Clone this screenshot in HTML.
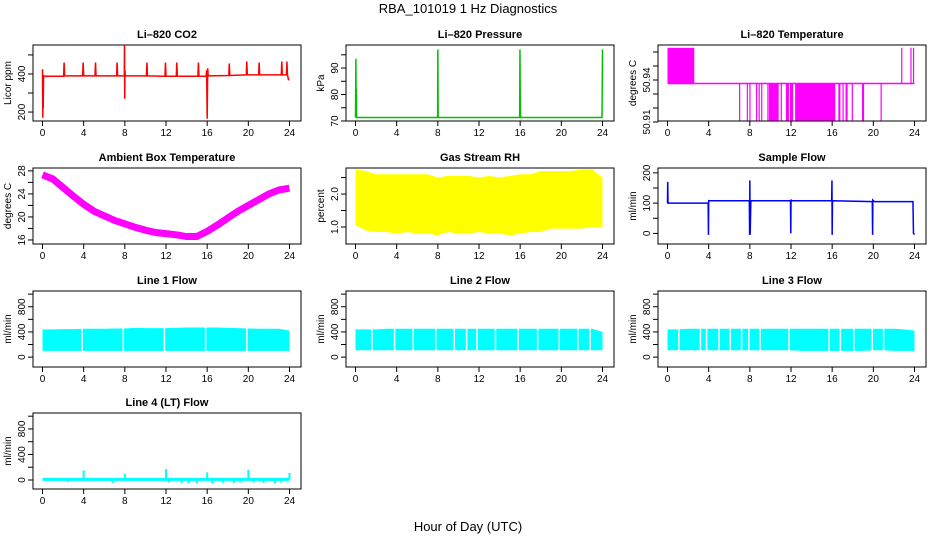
<!DOCTYPE html>
<html><head><meta charset="utf-8"><style>
html,body{margin:0;padding:0;background:#fff}
svg{display:block;font-family:"Liberation Sans",Arial,sans-serif}
</style></head><body>
<svg id="c" width="936" height="540" viewBox="0 0 936 540">
<text x="468" y="13" text-anchor="middle" font-size="13">RBA_101019  1 Hz Diagnostics</text>
<text x="468" y="531" text-anchor="middle" font-size="13">Hour of Day (UTC)</text>
</svg>
<script>
// ---- data ----
const xTicks = [0,4,8,12,16,20,24];
// CO2
const co2Hours = [0,0.03,0.05,0.07,0.1,0.12,0.2,1,2.05,2.1,2.15,3.9,3.95,4,5.1,5.15,5.2,7.2,7.25,7.3,7.95,7.97,7.99,8.01,8.05,10.1,10.15,10.2,11.9,11.95,12,13.0,13.05,13.1,15.1,15.15,15.2,15.9,15.95,16.0,16.05,16.1,18.1,18.15,18.2,19.8,19.85,19.9,21.0,21.05,21.1,23.2,23.25,23.3,23.7,23.75,23.8,23.9,24];
const co2Vals  = [425,170,385,220,385,390,388,388,388,460,390,390,460,390,390,460,390,390,460,390,390,600,270,420,390,390,460,390,388,460,388,388,460,388,388,460,388,388,420,165,430,390,392,455,392,395,465,395,395,460,395,395,465,395,395,465,395,370,370];
// Pressure
const presHours = [0,0.04,0.06,0.08,0.1,0.15,4,7.98,8.0,8.03,8.1,15.95,15.98,16.02,16.1,23.95,24];
const presVals  = [71.3,93.5,71.3,82,71.3,71.3,71.3,71.3,97,71.5,71.3,71.3,97,72,71.3,71.3,97];
// Li-820 temperature
const tempHigh = 50.963, tempMid = 50.9375, tempLow = 50.911;
const tempHighBlocks = [[0,2.6],[22.7,22.8],[23.6,23.7],[23.85,23.95]];
const tempLowBlocks = [[6.95,7.0],[7.7,7.8],[7.95,8.0],[8.6,8.7],[8.85,8.9],[9.1,9.15],[9.7,9.8],[9.85,10.8],[11.0,11.1],[11.5,11.8],[11.9,12.2],[12.4,16.3],[16.6,16.8],[17.0,17.1],[17.3,17.5],[17.9,18.0],[18.9,19.1],[20.7,20.75]];
// Ambient
const hours = [0,1,2,3,4,5,6,7,8,9,10,11,12,13,14,15,16,17,18,19,20,21,22,23,24];
const ambVals = [27.3,26.6,25.1,23.6,22.2,21.0,20.2,19.4,18.8,18.2,17.7,17.3,17.1,16.9,16.6,16.6,17.5,18.6,19.8,21.0,22.0,23.0,24.0,24.7,25.0];
// RH
const rhUpper = [2.75,2.7,2.6,2.6,2.6,2.6,2.6,2.6,2.5,2.55,2.55,2.55,2.5,2.55,2.5,2.55,2.6,2.6,2.7,2.7,2.7,2.7,2.75,2.75,2.5];
const rhLower = [1.05,0.9,0.85,0.85,0.8,0.85,0.8,0.8,0.75,0.85,0.8,0.8,0.85,0.8,0.8,0.75,0.8,0.85,0.85,0.95,0.95,0.95,0.95,1.0,1.0];
// Sample flow
const sfHours = [0,0.02,0.05,0.1,3.95,3.98,4.0,4.03,4.1,7.95,7.98,8.0,8.03,8.1,11.95,11.98,12.0,12.03,12.1,15.95,15.98,16.0,16.03,16.1,19.9,19.93,19.95,20.0,20.1,23.85,23.9,23.95,24];
const sfVals  = [100,170,100,100,100,-5,110,108,108,108,-5,175,-5,108,108,0,112,108,108,108,175,-5,108,108,105,-5,110,108,105,105,0,-2,0];
// Line flows (band envelopes per hour + gap hours)
const l1Upper = [440,440,445,445,450,450,450,455,455,465,460,460,460,465,470,470,470,470,465,460,455,450,450,450,420];
const l1Lower = [100,100,100,100,100,100,100,100,100,100,100,100,100,100,100,100,100,100,100,100,100,100,100,100,100];
const l1Gaps = [3.85,7.85,11.85,15.85,19.85];
const l2Upper = [440,440,440,450,450,450,450,450,450,450,450,450,450,450,450,450,450,450,450,450,450,450,450,450,400];
const l2Lower = [110,110,110,110,110,110,110,110,110,110,110,110,110,110,110,110,110,110,110,110,110,110,110,110,110];
const l2Gaps = [1.6,3.8,5.6,7.8,9.6,10.8,11.8,13.6,15.8,17.7,19.8,21.6,22.8];
const l3Upper = [440,440,450,450,450,450,450,450,450,450,450,450,450,450,450,450,450,450,450,450,450,450,450,440,420];
const l3Lower = [110,110,110,110,110,110,110,110,110,110,110,110,110,100,100,100,100,100,100,100,110,110,100,100,100];
const l3Gaps = [1.1,3.2,3.8,5.0,6.1,7.2,7.9,9.0,11.8,15.7,16.8,18.1,19.9,21.0];
// Line 4
const l4Base = 10;
const l4SpikeHours = [4.0,8.0,12.0,16.0,20.0,24.0,2.5,6.8,12.3,13.5,14.2,15.0,16.5,17.5,18.6,19.2,20.5,21.5,22.6,23.2];
const l4SpikeVals  = [150,100,170,120,160,110,-30,-45,-40,-45,-50,-50,-55,-45,-45,-40,-40,-45,-55,-40];

// ---- drawing ----
const svg = document.getElementById('c');
const NS = 'http://www.w3.org/2000/svg';
function mk(tag, attrs, parent){const e=document.createElementNS(NS,tag);for(const k in attrs)e.setAttribute(k,attrs[k]);(parent||svg).appendChild(e);return e;}
const colX=[33,346,658], rowY=[45,168,291,413], W=268, H=76;

function panel(col,row,title,ylab,y0,y1,ticks,labels,name){
  const L=colX[col], T=rowY[row];
  const g=mk('g',{});
  
  
  const xs=h=>L+9.5+h*(247/24);
  const ys=v=>T+H-(v-y0)/(y1-y0)*H;
  const box=mk('rect',{x:L,y:T,width:W,height:H,fill:'none',stroke:'#000','stroke-width':1},g);
  
  
  const t=mk('text',{x:L+W/2,y:T-7,'text-anchor':'middle','font-size':11,'font-weight':'bold'},g);t.textContent=title;
  
  
  const yl=mk('text',{x:0,y:0,'text-anchor':'middle','font-size':10,transform:`translate(${L-22},${T+H/2}) rotate(-90)`},g);yl.textContent=ylab;
  
  
  mk('line',{x1:xs(0),x2:xs(24),y1:T+H,y2:T+H,stroke:'#000'},g);
  xTicks.forEach(h=>{mk('line',{x1:xs(h),x2:xs(h),y1:T+H,y2:T+H+5,stroke:'#000'},g);
    const tx=mk('text',{x:xs(h),y:T+H+15,'text-anchor':'middle','font-size':10},g);tx.textContent=h;
    
    });
  mk('line',{x1:L,x2:L,y1:ys(ticks[0]),y2:ys(ticks[ticks.length-1]),stroke:'#000'},g);
  ticks.forEach(v=>{mk('line',{x1:L-5,x2:L,y1:ys(v),y2:ys(v),stroke:'#000'},g);});
  labels.forEach(v=>{const ty=mk('text',{x:0,y:0,'text-anchor':'middle','font-size':10,transform:`translate(${L-8},${ys(v)}) rotate(-90)`},g);ty.textContent=v;
    
    });
  const clip='cl'+col+row;
  const cp=mk('clipPath',{id:clip},g);mk('rect',{x:L,y:T,width:W,height:H},cp);
  const dg=mk('g',{'clip-path':`url(#${clip})`},g);
  return {xs,ys,g:dg};
}
function line(p,hs,vs,color,w,name){
  const pl=mk('polyline',{points:hs.map((h,i)=>p.xs(h)+','+p.ys(vs[i])).join(' '),fill:'none',stroke:color,'stroke-width':w},p.g);
  
  
}
function band(p,up,lo,color,name){
  const pts=hours.map((h,i)=>p.xs(h)+','+p.ys(up[i])).concat(hours.slice().reverse().map((h,j)=>p.xs(h)+','+p.ys(lo[hours.length-1-j])));
  const pg=mk('polygon',{points:pts.join(' '),fill:color},p.g);
  
  
}
function gaps(p,gs,name){gs.forEach(h=>{const l=mk('line',{x1:p.xs(h),x2:p.xs(h),y1:p.ys(500),y2:p.ys(80),stroke:'#fff','stroke-width':1.5},p.g);
  
  });}

let p=panel(0,0,'Li\u2013820 CO2','Licor ppm',153,552,[200,300,400,500],[200,400],'co2');
line(p,co2Hours,co2Vals,'#ff0000',1.5,'co2-series');
p=panel(1,0,'Li\u2013820 Pressure','kPa',70,98.7,[70,75,80,85,90,95],[70,80,90],'pressure');
line(p,presHours,presVals,'#00c000',1.5,'pressure-series');
p=panel(2,0,'Li\u2013820 Temperature','degrees C',50.9107,50.965,[50.91,50.92,50.93,50.94,50.95,50.96],[50.91,50.94],'li820-temp');
line(p,[0,24],[tempMid,tempMid],'#ff00ff',1.5,'li820-temp-baseline');
tempHighBlocks.forEach(b=>{const r=mk('rect',{x:p.xs(b[0]),y:p.ys(tempHigh),width:Math.max(1.2,p.xs(b[1])-p.xs(b[0])),height:p.ys(tempMid)-p.ys(tempHigh),fill:'#ff00ff'},p.g);
  
  });
tempLowBlocks.forEach(b=>{const r=mk('rect',{x:p.xs(b[0]),y:p.ys(tempMid),width:Math.max(1.2,p.xs(b[1])-p.xs(b[0])),height:p.ys(tempLow)-p.ys(tempMid),fill:'#ff00ff'},p.g);
  
  });
p=panel(0,1,'Ambient Box Temperature','degrees C',15.3,28.5,[16,18,20,22,24,26,28],[16,20,24,28],'ambient-temp');
line(p,hours,ambVals,'#ff00ff',7,'ambient-temp-series');
p=panel(1,1,'Gas Stream RH','percent',0.485,2.79,[1.0,1.5,2.0,2.5],['1.0','2.0'],'rh');
band(p,rhUpper,rhLower,'#ffff00','rh-series');
p=panel(2,1,'Sample Flow','ml/min',-35,216,[0,50,100,150,200],[0,100,200],'sample-flow');
line(p,sfHours,sfVals,'#0000ff',1.5,'sample-flow-series');
p=panel(0,2,'Line 1 Flow','ml/min',-157,1050,[0,200,400,600,800,1000],[0,400,800],'line1-flow');
band(p,l1Upper,l1Lower,'#00ffff','line1-series');gaps(p,l1Gaps,'line1-gap');
p=panel(1,2,'Line 2 Flow','ml/min',-157,1050,[0,200,400,600,800,1000],[0,400,800],'line2-flow');
band(p,l2Upper,l2Lower,'#00ffff','line2-series');gaps(p,l2Gaps,'line2-gap');
p=panel(2,2,'Line 3 Flow','ml/min',-157,1050,[0,200,400,600,800,1000],[0,400,800],'line3-flow');
band(p,l3Upper,l3Lower,'#00ffff','line3-series');gaps(p,l3Gaps,'line3-gap');
p=panel(0,3,'Line 4 (LT) Flow','ml/min',-141,1050,[0,200,400,600,800,1000],[0,400,800],'line4-flow');
line(p,[0,24],[l4Base,l4Base],'#00ffff',3,'line4-baseline');
l4SpikeHours.forEach((h,i)=>{const l=mk('line',{x1:p.xs(h),x2:p.xs(h),y1:p.ys(l4Base),y2:p.ys(l4SpikeVals[i]),stroke:'#00ffff','stroke-width':2},p.g);
  
  });
</script>
</body></html>
